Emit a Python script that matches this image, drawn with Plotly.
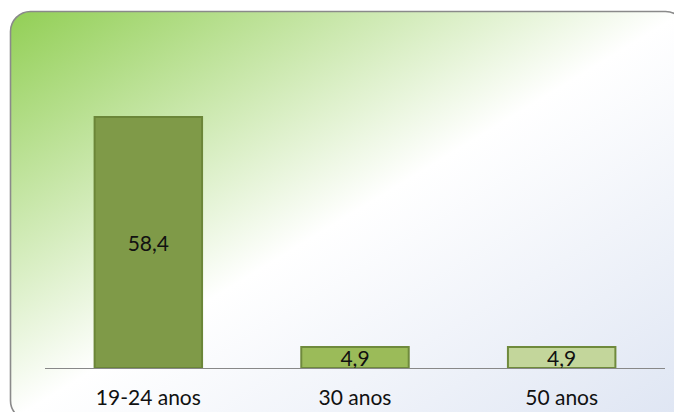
import base64
import plotly.graph_objects as go

categories = ["19-24 anos", "30 anos", "50 anos"]
values = [58.4, 4.9, 4.9]
fill_colors = ["#7F9A48", "#9BBB59", "#C3D69B"]
line_colors = ["#6B8638", "#6F8A3C", "#6F8A3C"]

W, H = 674, 412
L, R, T, B = 45, 665, 67, 368
PW, PH = R - L, B - T

svg = f'''<svg xmlns="http://www.w3.org/2000/svg" width="{W}" height="{H}" viewBox="0 0 {W} {H}" preserveAspectRatio="none">
<defs>
<linearGradient id="g" x1="0" y1="0" x2="1" y2="1">
<stop offset="0" stop-color="#92CF55"/>
<stop offset="0.5" stop-color="#FFFFFF"/>
<stop offset="1" stop-color="#DEE5F3"/>
</linearGradient>
</defs>
<rect x="11.5" y="12.5" width="675" height="409" rx="20" ry="20" fill="none" stroke="#C8C8C8" stroke-width="2"/>
<rect x="10.5" y="11.5" width="675" height="409" rx="20" ry="20" fill="url(#g)" stroke="#8A8A8A" stroke-width="1.6"/>
</svg>'''
src = "data:image/svg+xml;base64," + base64.b64encode(svg.encode()).decode()

fig = go.Figure()
fig.add_trace(go.Bar(
    x=categories,
    y=values,
    marker=dict(color=fill_colors, line=dict(color=line_colors, width=2)),
    texttemplate="%{y:.1f}",
    textposition="inside",
    insidetextanchor="middle",
    constraintext="none",
    textfont=dict(family="Lato, sans-serif", size=21, color="#111111"),
    hoverinfo="skip",
))

fig.add_layout_image(dict(
    source=src, xref="paper", yref="paper",
    x=(0 - L) / PW, y=(B - 0) / PH,
    sizex=W / PW, sizey=H / PH,
    xanchor="left", yanchor="top", sizing="stretch", layer="below",
))

fig.update_layout(
    width=W, height=H,
    margin=dict(l=L, r=W - R, t=T, b=H - B),
    paper_bgcolor="white",
    plot_bgcolor="rgba(0,0,0,0)",
    separators=",.",
    bargap=0.48,
    showlegend=False,
    xaxis=dict(showline=True, linecolor="#888888", linewidth=1, showgrid=False,
               ticks="", ticklabelstandoff=11, automargin=False,
               tickfont=dict(family="Lato, sans-serif", size=21, color="#111111")),
    yaxis=dict(visible=False, range=[0, 70], showgrid=False, zeroline=False,
               automargin=False),
)

fig.write_html("out.html")
